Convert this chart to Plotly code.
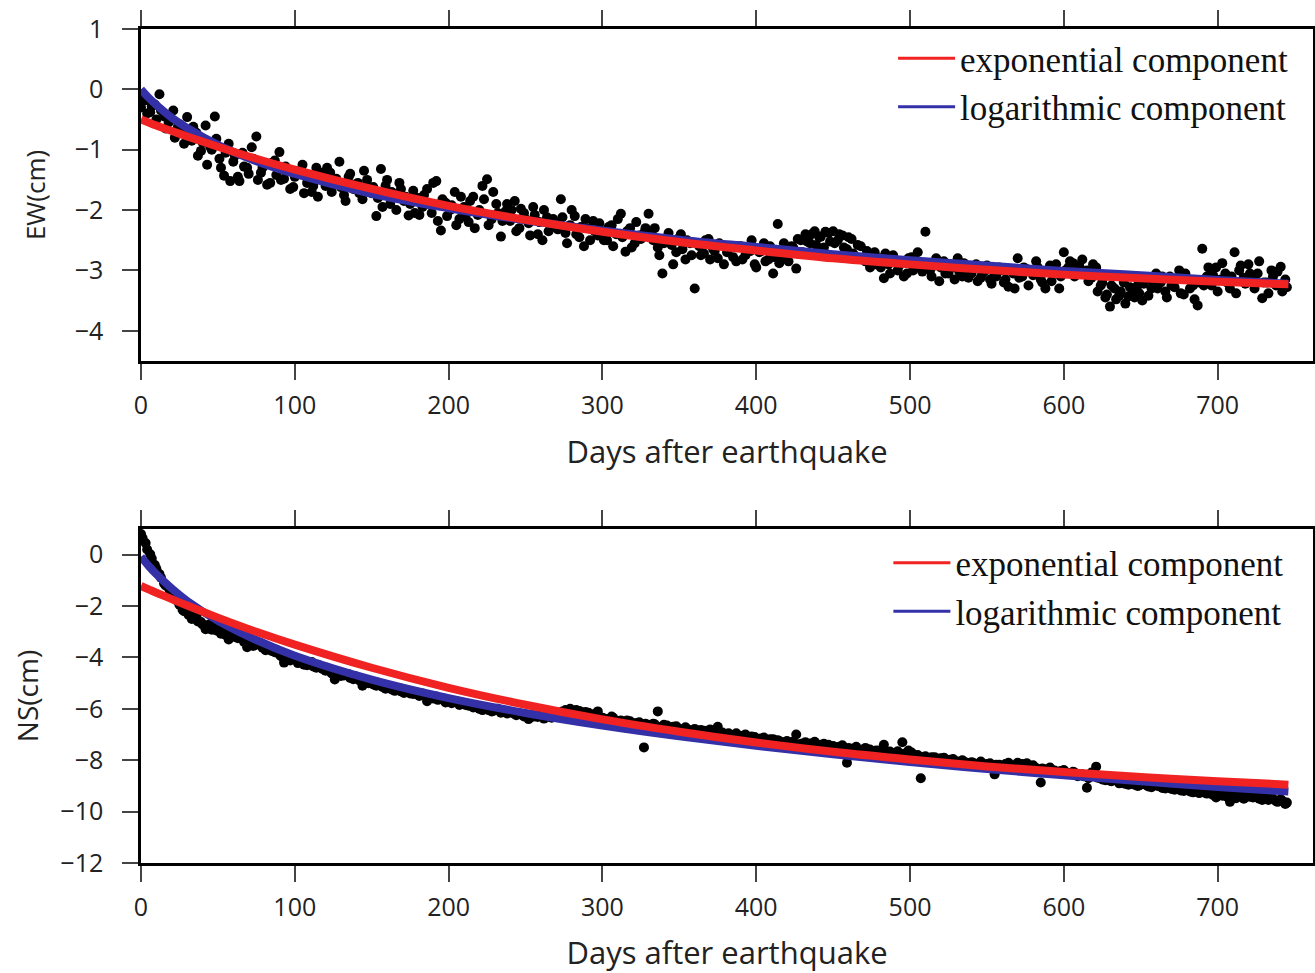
import plotly.graph_objects as go

# Observation days (two interleaved sampling series after the main shock)
days = [
    0, 3, 6, 9, 12, 15, 18, 21, 24, 27,
    30, 33, 36, 39, 42, 45, 48, 51, 54, 57,
    60, 63, 66, 69, 72, 75, 78, 81, 84, 87,
    90, 93, 96, 99, 102, 105, 108, 111, 114, 117,
    120, 123, 126, 129, 132, 135, 138, 141, 144, 147,
    150, 153, 156, 159, 162, 165, 168, 171, 174, 177,
    180, 183, 186, 189, 192, 195, 198, 201, 204, 207,
    210, 213, 216, 219, 222, 225, 228, 231, 234, 237,
    240, 243, 246, 249, 252, 255, 258, 261, 264, 267,
    270, 273, 276, 279, 282, 285, 288, 291, 294, 297,
    300, 303, 306, 309, 312, 315, 318, 321, 324, 327,
    330, 333, 336, 339, 342, 345, 348, 351, 354, 357,
    360, 363, 366, 369, 372, 375, 378, 381, 384, 387,
    390, 393, 396, 399, 402, 405, 408, 411, 414, 417,
    420, 423, 426, 429, 432, 435, 438, 441, 444, 447,
    450, 453, 456, 459, 462, 465, 468, 471, 474, 477,
    480, 483, 486, 489, 492, 495, 498, 501, 504, 507,
    510, 513, 516, 519, 522, 525, 528, 531, 534, 537,
    540, 543, 546, 549, 552, 555, 558, 561, 564, 567,
    570, 573, 576, 579, 582, 585, 588, 591, 594, 597,
    600, 603, 606, 609, 612, 615, 618, 621, 624, 627,
    630, 633, 636, 639, 642, 645, 648, 651, 654, 657,
    660, 663, 666, 669, 672, 675, 678, 681, 684, 687,
    690, 693, 696, 699, 702, 705, 708, 711, 714, 717,
    720, 723, 726, 729, 732, 735, 738, 741, 744,
]
days_b = [
    1, 4, 7, 10, 13, 16, 19, 22, 25, 28,
    31, 34, 37, 40, 43, 46, 49, 52, 55, 58,
    61, 64, 67, 70, 73, 76, 79, 82, 85, 88,
    91, 94, 97, 100, 103, 106, 109, 112, 115, 118,
    121, 124, 127, 130, 133, 136, 139, 142, 145, 148,
    151, 154, 157, 160, 163, 166, 169, 172, 175, 178,
    181, 184, 187, 190, 193, 196, 199, 202, 205, 208,
    211, 214, 217, 220, 223, 226, 229, 232, 235, 238,
    241, 244, 247, 250, 253, 256, 259, 262, 265, 268,
    271, 274, 277, 280, 283, 286, 289, 292, 295, 298,
    301, 304, 307, 310, 313, 316, 319, 322, 325, 328,
    331, 334, 337, 340, 343, 346, 349, 352, 355, 358,
    361, 364, 367, 370, 373, 376, 379, 382, 385, 388,
    391, 394, 397, 400, 403, 406, 409, 412, 415, 418,
    421, 424, 427, 430, 433, 436, 439, 442, 445, 448,
    451, 454, 457, 460, 463, 466, 469, 472, 475, 478,
    481, 484, 487, 490, 493, 496, 499, 502, 505, 508,
    511, 514, 517, 520, 523, 526, 529, 532, 535, 538,
    541, 544, 547, 550, 553, 556, 559, 562, 565, 568,
    571, 574, 577, 580, 583, 586, 589, 592, 595, 598,
    601, 604, 607, 610, 613, 616, 619, 622, 625, 628,
    631, 634, 637, 640, 643, 646, 649, 652, 655, 658,
    661, 664, 667, 670, 673, 676, 679, 682, 685, 688,
    691, 694, 697, 700, 703, 706, 709, 712, 715, 718,
    721, 724, 727, 730, 733, 736, 739, 742, 745,
]

# East-west displacement (cm)
ew_obs = [
    -0.30, -0.18, -0.38, -0.25, -0.08, -0.45, -0.55, -0.35, -0.62, -0.70,
    -0.46, -0.85, -0.72, -1.02, -0.60, -0.95, -0.45, -1.15, -1.43, -0.90,
    -1.20, -1.45, -1.05, -1.30, -0.96, -0.78, -1.38, -1.25, -1.55, -1.18,
    -1.04, -1.48, -1.35, -1.62, -1.40, -1.25, -1.55, -1.70, -1.30, -1.48,
    -1.60, -1.38, -1.52, -1.20, -1.75, -1.45, -1.65, -1.55, -1.82, -1.50,
    -1.72, -2.10, -1.32, -1.60, -1.90, -1.75, -1.55, -1.85, -2.09, -1.68,
    -1.80, -1.95, -1.65, -2.05, -1.52, -2.34, -1.88, -2.00, -1.70, -2.15,
    -1.95, -2.20, -1.78, -2.08, -1.60, -1.49, -2.15, -1.90, -2.44, -2.02,
    -2.18, -1.85, -2.30, -2.05, -2.22, -1.95, -2.40, -2.50, -2.12, -2.28,
    -2.20, -1.82, -2.38, -2.25, -2.10, -2.45, -2.60, -2.30, -2.18, -2.42,
    -2.35, -2.50, -2.25, -2.40, -2.06, -2.69, -2.30, -2.55, -2.42, -2.38,
    -2.06, -2.50, -2.62, -3.05, -2.45, -2.58, -2.70, -2.40, -2.82, -2.55,
    -3.30, -2.60, -2.72, -2.48, -2.65, -2.80, -2.58, -2.70, -2.62, -2.85,
    -2.60, -2.75, -2.68, -2.90, -2.70, -2.55, -2.82, -3.05, -2.23, -2.78,
    -2.72, -2.60, -2.97, -2.50, -2.40, -2.55, -2.35, -2.45, -2.62, -2.38,
    -2.35, -2.50, -2.42, -2.65, -2.48, -2.78, -2.60, -2.85, -2.95, -2.70,
    -2.80, -3.13, -2.90, -2.75, -3.00, -2.85, -3.05, -2.78, -2.95, -2.88,
    -2.36, -3.00, -2.92, -3.18, -2.85, -3.05, -2.95, -2.80, -3.10, -2.98,
    -3.05, -2.90, -3.12, -3.00, -3.15, -3.08, -2.95, -3.20, -3.27, -3.05,
    -2.80, -3.10, -2.98, -3.02, -2.85, -3.15, -3.30, -2.92, -3.05, -3.30,
    -2.70, -2.95, -2.88, -3.05, -2.82, -3.00, -3.12, -2.95, -3.25, -3.45,
    -3.60, -3.30, -3.42, -3.20, -3.43, -3.35, -3.25, -3.50, -3.15, -3.30,
    -3.05, -3.20, -3.35, -3.10, -3.28, -3.00, -3.40, -3.15, -3.25, -3.58,
    -2.64, -3.10, -3.25, -2.95, -3.15, -3.05, -3.30, -2.70, -3.00, -3.12,
    -2.90, -3.15, -3.05, -3.46, -3.20, -3.00, -3.25, -2.94, -3.15,
]
ew_obs_b = [
    -0.15, -0.40, -0.28, -0.50, -0.35, -0.65, -0.48, -0.80, -0.58, -0.90,
    -0.75, -0.62, -1.10, -0.88, -1.25, -1.00, -0.82, -1.30, -1.05, -1.52,
    -1.10, -1.52, -1.28, -1.40, -1.15, -1.50, -1.30, -1.58, -1.22, -1.42,
    -1.50, -1.28, -1.65, -1.45, -1.35, -1.72, -1.42, -1.60, -1.78, -1.38,
    -1.30, -1.70, -1.48, -1.62, -1.85, -1.40, -1.58, -1.72, -1.35, -1.68,
    -1.62, -1.80, -1.95, -1.50, -1.70, -2.00, -1.65, -1.78, -1.90, -2.05,
    -2.08, -1.75, -1.90, -1.55, -2.18, -1.82, -2.10, -1.92, -2.25, -1.78,
    -2.10, -1.85, -2.30, -2.00, -1.82, -2.25, -1.70, -2.05, -2.18, -1.90,
    -2.00, -2.35, -1.98, -2.15, -2.42, -2.08, -2.20, -2.00, -2.35, -2.15,
    -2.32, -2.12, -2.55, -2.00, -2.40, -2.28, -2.15, -2.50, -2.35, -2.22,
    -2.50, -2.28, -2.60, -2.15, -2.45, -2.35, -2.62, -2.20, -2.48, -2.30,
    -2.40, -2.30, -2.75, -2.55, -2.38, -2.90, -2.48, -2.65, -2.50, -2.75,
    -2.55, -2.75, -2.50, -2.82, -2.68, -2.55, -2.90, -2.62, -2.78, -2.60,
    -2.82, -2.62, -2.50, -2.95, -2.68, -2.85, -2.60, -2.78, -2.88, -2.55,
    -2.85, -2.62, -2.48, -2.70, -2.52, -2.40, -2.58, -2.44, -2.36, -2.52,
    -2.55, -2.40, -2.62, -2.45, -2.72, -2.58, -2.80, -2.68, -2.75, -2.90,
    -2.95, -2.72, -3.05, -2.82, -2.92, -3.10, -2.80, -3.00, -2.70, -3.02,
    -2.88, -3.10, -2.80, -2.95, -3.05, -2.90, -3.15, -3.02, -2.88, -3.12,
    -2.95, -3.18, -3.05, -2.92, -3.22, -3.10, -3.00, -3.15, -2.98, -3.30,
    -3.12, -2.95, -3.25, -3.08, -2.95, -3.20, -3.02, -3.18, -2.90, -3.10,
    -3.00, -2.85, -3.10, -2.92, -3.02, -3.18, -2.90, -3.35, -3.20, -3.40,
    -3.25, -3.48, -3.35, -3.55, -3.28, -3.45, -3.38, -3.22, -3.42, -3.18,
    -3.30, -3.10, -3.45, -3.25, -3.15, -3.38, -3.05, -3.30, -3.48, -3.20,
    -3.25, -2.95, -3.08, -3.35, -2.88, -3.20, -3.10, -3.38, -2.92, -3.22,
    -3.05, -3.30, -2.85, -3.20, -3.38, -3.10, -3.02, -3.35, -3.28,
]

# North-south displacement (cm)
ns_obs = [
    0.80, 0.45, 0.02, -0.40, -0.75, -1.12, -1.30, -1.65, -1.82, -2.14,
    -2.22, -2.50, -2.40, -2.62, -2.90, -2.70, -2.85, -2.78, -3.00, -3.30,
    -3.05, -3.25, -3.18, -3.60, -3.35, -3.50, -3.45, -3.72, -3.62, -3.80,
    -3.88, -4.20, -3.95, -4.05, -4.22, -4.10, -4.30, -4.18, -4.40, -4.35,
    -4.52, -4.45, -4.86, -4.60, -4.70, -4.65, -4.85, -4.78, -5.10, -4.92,
    -5.00, -5.10, -5.05, -5.22, -5.15, -5.30, -5.20, -5.38, -5.32, -5.42,
    -5.45, -5.40, -5.70, -5.55, -5.52, -5.62, -5.75, -5.68, -5.72, -5.85,
    -5.80, -5.88, -5.95, -5.90, -6.05, -5.98, -6.10, -6.02, -6.15, -6.08,
    -6.12, -6.20, -6.18, -6.30, -6.40, -6.25, -6.32, -6.28, -6.22, -6.35,
    -6.30, -6.15, -6.05, -6.00, -6.12, -6.08, -6.20, -6.15, -6.25, -6.10,
    -6.35, -6.40, -6.30, -6.50, -6.45, -6.55, -6.48, -6.60, -6.52, -7.50,
    -6.62, -6.58, -6.10, -6.70, -6.65, -6.75, -6.68, -6.80, -6.72, -6.85,
    -6.78, -6.90, -6.85, -6.95, -6.88, -6.70, -6.92, -6.98, -7.05, -6.95,
    -7.08, -7.00, -7.15, -7.10, -7.20, -7.12, -7.25, -7.18, -7.22, -7.30,
    -7.25, -7.32, -7.00, -7.38, -7.30, -7.35, -7.28, -7.42, -7.36, -7.40,
    -7.45, -7.50, -7.42, -8.10, -7.55, -7.48, -7.60, -7.52, -7.58, -7.65,
    -7.62, -7.40, -7.68, -7.72, -7.65, -7.30, -7.78, -7.70, -7.82, -8.70,
    -7.85, -7.92, -7.88, -7.98, -7.90, -8.02, -7.95, -8.05, -8.00, -8.10,
    -8.08, -8.15, -8.05, -8.20, -8.12, -8.55, -8.18, -8.25, -8.10, -8.22,
    -8.10, -8.15, -8.12, -8.25, -8.30, -8.87, -8.35, -8.28, -8.40, -8.45,
    -8.38, -8.50, -8.45, -8.62, -8.55, -9.07, -8.48, -8.25, -8.70, -8.78,
    -8.80, -8.75, -8.90, -8.85, -8.95, -8.88, -9.00, -8.92, -8.98, -9.05,
    -8.95, -9.02, -9.10, -9.05, -9.15, -9.08, -9.20, -9.12, -9.25, -9.18,
    -9.15, -9.30, -9.22, -9.45, -9.28, -9.35, -9.62, -9.40, -9.30, -9.50,
    -9.35, -9.45, -9.30, -9.55, -9.40, -9.48, -9.60, -9.52, -9.70,
]
ns_obs_b = [
    0.65, 0.20, -0.15, -0.55, -0.90, -1.20, -1.45, -1.72, -1.95, -2.20,
    -2.35, -2.42, -2.60, -2.72, -2.75, -2.92, -2.95, -3.08, -3.12, -3.18,
    -3.20, -3.15, -3.40, -3.38, -3.55, -3.48, -3.62, -3.58, -3.75, -3.70,
    -3.95, -4.02, -4.12, -4.00, -4.15, -4.28, -4.20, -4.35, -4.28, -4.45,
    -4.40, -4.62, -4.55, -4.72, -4.68, -4.80, -4.72, -4.90, -4.85, -5.00,
    -5.05, -4.98, -5.15, -5.12, -5.25, -5.18, -5.32, -5.28, -5.40, -5.35,
    -5.50, -5.48, -5.58, -5.60, -5.65, -5.58, -5.72, -5.78, -5.70, -5.82,
    -5.85, -5.82, -5.92, -6.00, -5.95, -6.05, -6.08, -6.00, -6.12, -6.18,
    -6.15, -6.25, -6.22, -6.28, -6.35, -6.30, -6.25, -6.38, -6.30, -6.20,
    -6.18, -6.10, -6.22, -6.08, -6.05, -6.18, -6.12, -6.28, -6.20, -6.30,
    -6.38, -6.42, -6.35, -6.48, -6.52, -6.45, -6.58, -6.55, -6.62, -6.58,
    -6.65, -6.60, -6.72, -6.62, -6.78, -6.70, -6.75, -6.82, -6.78, -6.88,
    -6.85, -6.82, -6.92, -6.80, -6.98, -6.90, -7.00, -6.95, -7.02, -7.08,
    -7.05, -7.12, -7.08, -7.18, -7.15, -7.22, -7.18, -7.28, -7.25, -7.32,
    -7.30, -7.28, -7.38, -7.35, -7.42, -7.38, -7.45, -7.40, -7.48, -7.45,
    -7.50, -7.48, -7.55, -7.52, -7.60, -7.58, -7.62, -7.58, -7.68, -7.62,
    -7.68, -7.72, -7.66, -7.75, -7.80, -7.75, -7.62, -7.85, -7.80, -7.88,
    -7.90, -7.88, -7.95, -7.92, -8.00, -7.98, -8.02, -8.08, -8.05, -8.12,
    -8.10, -8.18, -8.12, -8.15, -8.22, -8.18, -8.28, -8.15, -8.25, -8.20,
    -8.18, -8.22, -8.30, -8.20, -8.35, -8.32, -8.42, -8.38, -8.48, -8.42,
    -8.45, -8.52, -8.48, -8.58, -8.62, -8.70, -8.58, -8.68, -8.75, -8.72,
    -8.82, -8.78, -8.88, -8.92, -8.85, -8.95, -8.98, -8.90, -9.02, -8.98,
    -9.00, -9.08, -9.05, -9.12, -9.10, -9.18, -9.15, -9.22, -9.18, -9.28,
    -9.25, -9.22, -9.35, -9.30, -9.38, -9.42, -9.35, -9.48, -9.40, -9.45,
    -9.42, -9.38, -9.50, -9.45, -9.55, -9.50, -9.62, -9.58, -9.65,
]

# Fitted post-seismic components, sampled along the time axis
fit_days = [0, 5, 10, 20, 30, 50, 75, 100, 150, 200, 250, 300, 350,
            400, 450, 500, 550, 600, 650, 700, 746]
ew_exp = [-0.50, -0.55, -0.60, -0.69, -0.78, -0.95, -1.15, -1.33, -1.65, -1.93, -2.16,
          -2.36, -2.53, -2.67, -2.80, -2.90, -2.99, -3.07, -3.13, -3.19, -3.23]
ew_log = [0.00, -0.14, -0.26, -0.47, -0.64, -0.92, -1.19, -1.40, -1.73, -1.97, -2.17,
          -2.34, -2.49, -2.61, -2.73, -2.83, -2.92, -3.01, -3.08, -3.16, -3.22]
ns_exp = [-1.22, -1.35, -1.48, -1.73, -1.98, -2.45, -3.00, -3.50, -4.40, -5.18, -5.84,
          -6.41, -6.89, -7.31, -7.67, -7.97, -8.24, -8.46, -8.65, -8.82, -8.95]
ns_log = [-0.08, -0.44, -0.76, -1.32, -1.80, -2.57, -3.32, -3.93, -4.86, -5.58, -6.16,
          -6.65, -7.07, -7.44, -7.77, -8.07, -8.34, -8.59, -8.82, -9.04, -9.22]

legend_names = ["exponential component", "logarithmic component"]
x_ticks = [0, 100, 200, 300, 400, 500, 600, 700]
ew_ticks = [1, 0, -1, -2, -3, -4]
ns_ticks = [0, -2, -4, -6, -8, -10, -12]

RED = "rgb(240,34,34)"
BLUE = "rgb(52,48,168)"
SANS = "Open Sans, sans-serif"
SERIF = "Liberation Serif, Times New Roman, serif"

fig = go.Figure()

panels = [
    ("x", "y", ew_obs, ew_obs_b, ew_exp, ew_log, "legend"),
    ("x2", "y2", ns_obs, ns_obs_b, ns_exp, ns_log, "legend2"),
]
for xa, ya, obs, obs_b, fexp, flog, leg in panels:
    fig.add_trace(go.Scatter(
        x=days + days_b, y=obs + obs_b, mode="markers", xaxis=xa, yaxis=ya,
        marker=dict(color="black", size=10), showlegend=False, hoverinfo="skip"))
    fig.add_trace(go.Scatter(
        x=fit_days, y=flog, mode="lines", xaxis=xa, yaxis=ya,
        line=dict(color=BLUE, width=8, shape="spline"), showlegend=False))
    fig.add_trace(go.Scatter(
        x=fit_days, y=fexp, mode="lines", xaxis=xa, yaxis=ya,
        line=dict(color=RED, width=8, shape="spline"), showlegend=False))
    # thin-line legend entries
    for name, col in zip(legend_names, [RED, BLUE]):
        fig.add_trace(go.Scatter(
            x=[None], y=[None], mode="lines", xaxis=xa, yaxis=ya,
            line=dict(color=col, width=3), name=name, legend=leg))

common_x = dict(
    range=[0, 762], tickvals=x_ticks, ticks="outside", ticklen=16, tickwidth=1.5,
    tickcolor="#444", showline=True, linecolor="black", linewidth=2.5, mirror="ticks",
    showgrid=False, zeroline=False, automargin=False,
    tickfont=dict(family=SANS, size=25, color="#222"), ticklabelstandoff=4,
    title=dict(text="Days after earthquake", font=dict(family=SANS, size=31, color="#222"),
               standoff=22),
)
common_y = dict(
    ticks="outside", ticklen=16, tickwidth=1.5, tickcolor="#444", showline=True,
    linecolor="black", linewidth=2.5, mirror="ticks", showgrid=False, zeroline=False,
    automargin=False, tickfont=dict(family=SANS, size=25, color="#222"),
    ticklabelstandoff=14,
)

fig.update_layout(
    width=1315, height=973,
    margin=dict(l=141, r=2, t=29, b=110),
    paper_bgcolor="white", plot_bgcolor="white",
    xaxis=dict(domain=[0, 1], anchor="y", **common_x),
    xaxis2=dict(domain=[0, 1], anchor="y2", **common_x),
    yaxis=dict(domain=[0.602, 1.0], anchor="x", range=[-4.5, 1.0], tickvals=ew_ticks,
               title=dict(text="EW(cm)", font=dict(family=SANS, size=26, color="#222"),
                          standoff=22),
               **common_y),
    yaxis2=dict(domain=[0.0, 0.4005], anchor="x2", range=[-12, 1.0], tickvals=ns_ticks,
                title=dict(text="NS(cm)", font=dict(family=SANS, size=28, color="#222"),
                           standoff=14),
                **common_y),
    legend=dict(x=0.983, y=1.0, xanchor="right", yanchor="top", bgcolor="rgba(0,0,0,0)",
                font=dict(family=SERIF, size=35, color="#111"), tracegroupgap=0,
                itemwidth=57),
    legend2=dict(x=0.979, y=0.395, xanchor="right", yanchor="top", bgcolor="rgba(0,0,0,0)",
                 font=dict(family=SERIF, size=35, color="#111"), tracegroupgap=0,
                 itemwidth=57),
)

fig.write_html("out.html")
